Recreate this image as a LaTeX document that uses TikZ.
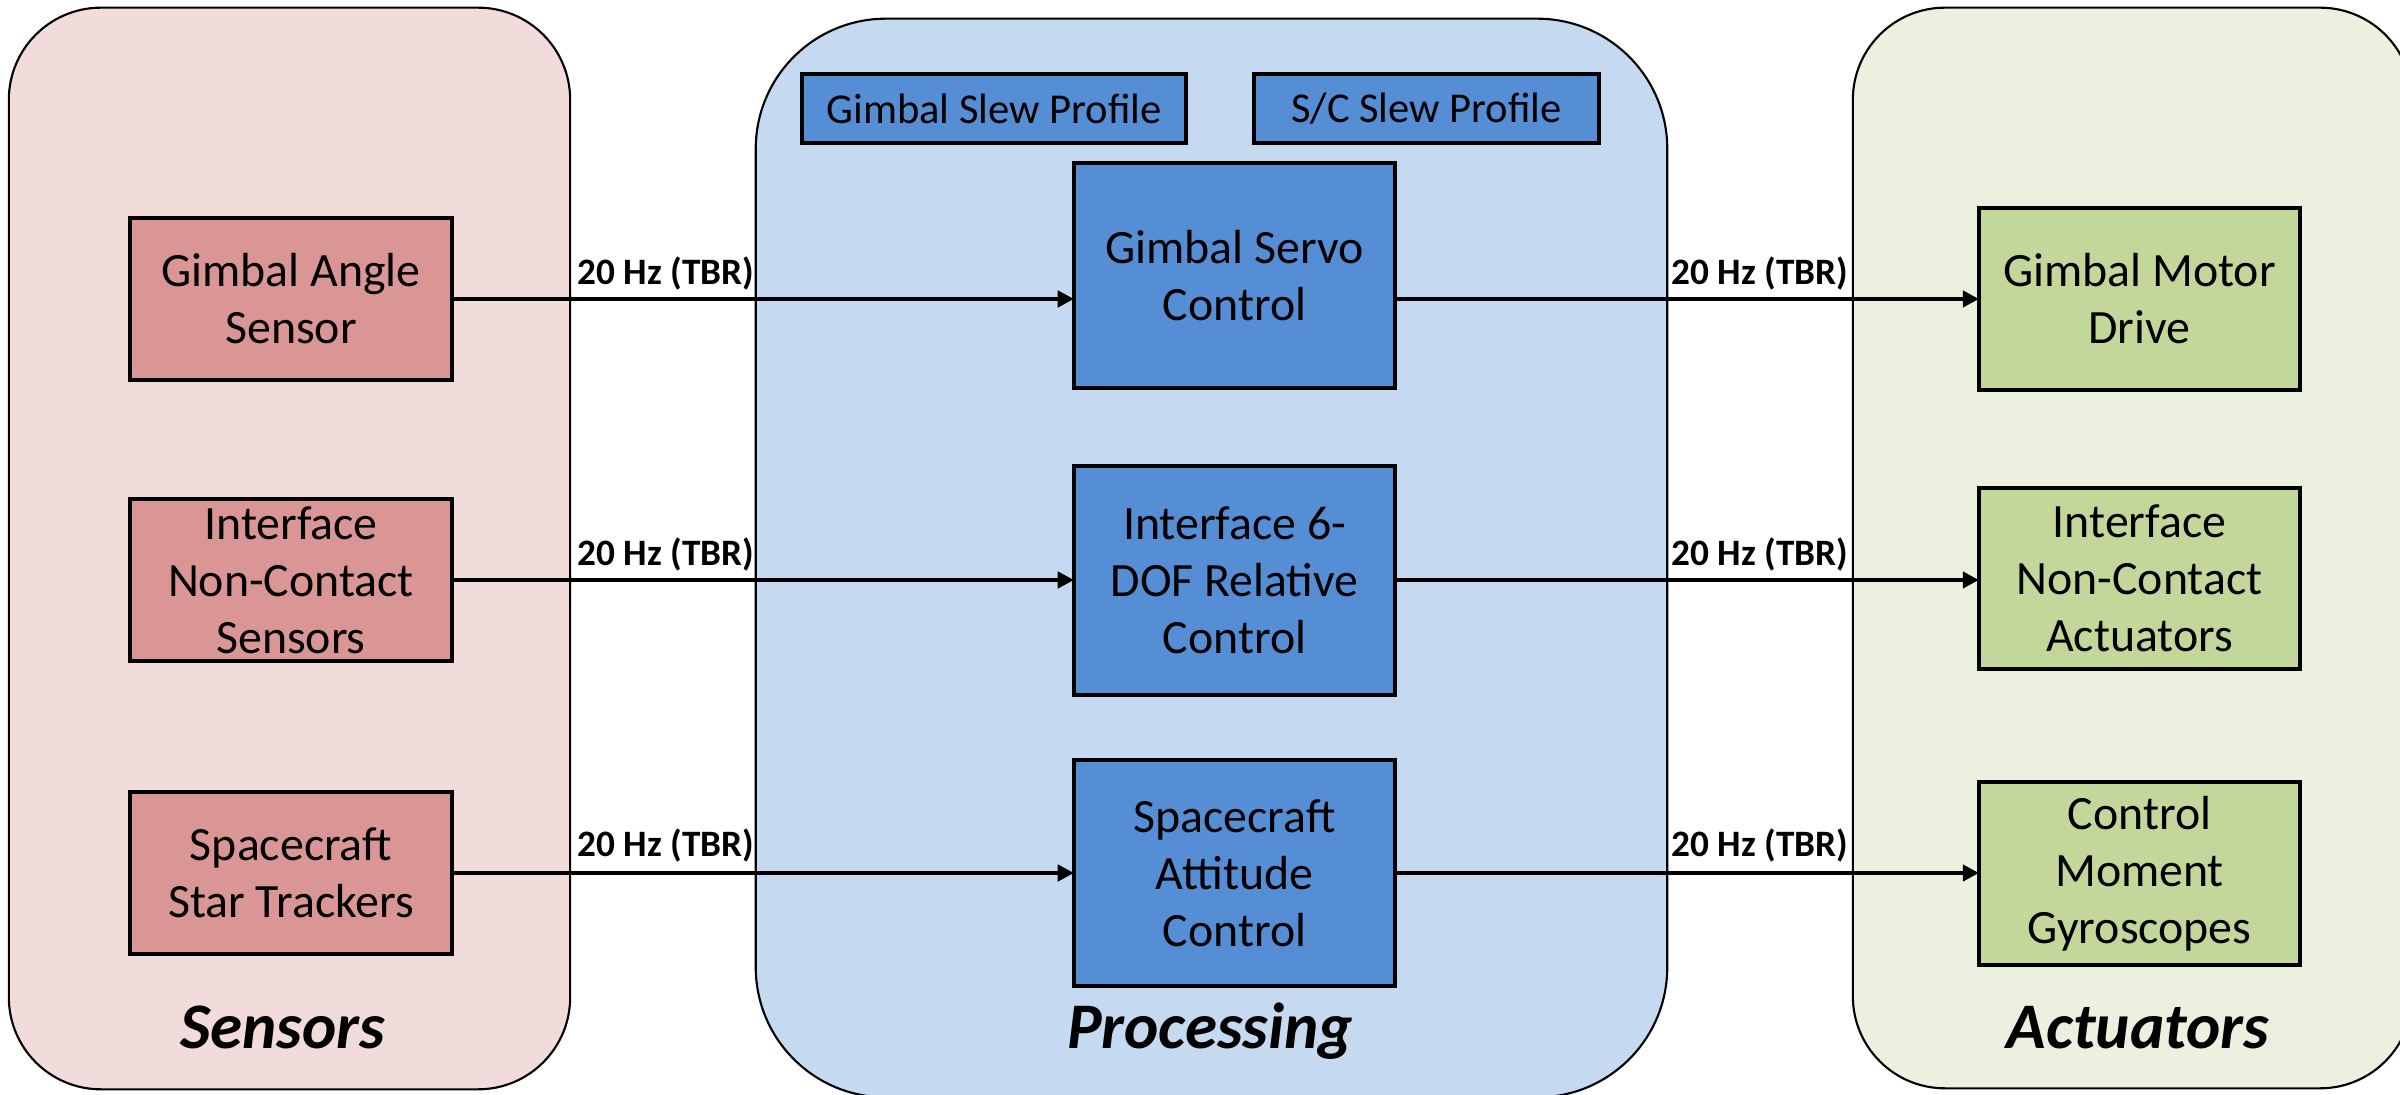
\documentclass[tikz,border=0pt]{standalone}
\usepackage{fontspec}
\setmainfont{Carlito}
\usetikzlibrary{arrows.meta,calc}
\definecolor{sensbg}{RGB}{242,220,219}
\definecolor{sensbox}{RGB}{218,150,148}
\definecolor{procbg}{RGB}{197,217,241}
\definecolor{procbox}{RGB}{85,142,213}
\definecolor{actbg}{RGB}{235,241,222}
\definecolor{actbox}{RGB}{196,215,155}
\tikzset{
  panel/.style={draw=black, line width=0.6pt, inner sep=0pt, outer sep=0pt},
  blk/.style={draw=black, line width=1.3pt, inner sep=0pt, outer sep=0pt, align=center,
    font=\fontsize{13.6pt}{16.2pt}\selectfont, minimum width=3.21cm},
  slew/.style={draw=black, line width=1.3pt, inner sep=0pt, outer sep=0pt,
    font=\fontsize{12.1pt}{14pt}\selectfont, fill=procbox, minimum height=0.69cm},
  conn/.style={line width=1.2pt, -{Triangle[length=4.6pt,width=4.6pt]}},
  lbl/.style={anchor=base, inner sep=0pt, font=\fontsize{10.6pt}{12pt}\selectfont\bfseries},
  ttl/.style={anchor=base, inner sep=0pt, font=\fontsize{18.5pt}{21pt}\selectfont\bfseries\itshape}
}
\begin{document}
\begin{tikzpicture}[x=0.01cm, y=-0.01cm]
\useasboundingbox (0,0) rectangle (2400,1095);
% panels
\node[panel, fill=sensbg, rounded corners=0.92cm, minimum width=5.61cm, minimum height=10.81cm] (sens) at (289.5,548.5) {};
\node[panel, fill=procbg, rounded corners=1.3cm, minimum width=9.11cm, minimum height=10.78cm] (proc) at (1211.5,558) {};
\node[panel, fill=actbg, rounded corners=0.92cm, minimum width=5.59cm, minimum height=10.80cm] (act) at (2132.5,548) {};
% sensor boxes
\node[blk, fill=sensbox, minimum width=3.22cm, minimum height=1.62cm] (gas) at (291,299) {Gimbal Angle\\Sensor};
\node[blk, fill=sensbox, minimum width=3.22cm, minimum height=1.62cm] (incs) at (291,580) {Interface\\Non-Contact\\Sensors};
\node[blk, fill=sensbox, minimum width=3.22cm, minimum height=1.62cm] (sst) at (291,873) {Spacecraft\\Star Trackers};
% processing boxes
\node[slew, minimum width=3.84cm] (gsp) at (994,108.5) {Gimbal Slew Profile};
\node[slew, minimum width=3.45cm] (scsp) at (1426.5,108.5) {S/C Slew Profile};
\node[blk, fill=procbox, minimum height=2.25cm] (gsc) at (1234.5,275.5) {Gimbal Servo\\Control};
\node[blk, fill=procbox, minimum height=2.29cm] (i6) at (1234.5,580.5) {Interface 6-\\DOF Relative\\Control};
\node[blk, fill=procbox, minimum height=2.26cm] (sac) at (1234.5,873) {Spacecraft\\Attitude\\Control};
% actuator boxes
\node[blk, fill=actbox, minimum height=1.82cm] (gmd) at (2139.5,299) {Gimbal Motor\\Drive};
\node[blk, fill=actbox, minimum height=1.81cm] (inca) at (2139.5,578.5) {Interface\\Non-Contact\\Actuators};
\node[blk, fill=actbox, minimum height=1.83cm] (cmg) at (2139.5,873.5) {Control\\Moment\\Gyroscopes};
% connectors
\draw[conn] (gas.east) -- (gas.east -| gsc.west);
\draw[conn] (incs.east) -- (incs.east -| i6.west);
\draw[conn] (sst.east) -- (sst.east -| sac.west);
\draw[conn] (gsc.east |- gmd.west) -- (gmd.west);
\draw[conn] (i6.east |- incs.east) -- (incs.east -| inca.west);
\draw[conn] (sac.east) -- (sac.east -| cmg.west);
% rate labels
\node[lbl] (l1) at (666,285) {20 Hz (TBR)};
\node[lbl] (l2) at (666,566) {20 Hz (TBR)};
\node[lbl] (l3) at (666,857) {20 Hz (TBR)};
\node[lbl] (r1) at (1760,285) {20 Hz (TBR)};
\node[lbl] (r2) at (1760,566) {20 Hz (TBR)};
\node[lbl] (r3) at (1760,857) {20 Hz (TBR)};
% titles
\node[ttl] (tsens) at (283,1048) {Sensors};
\node[ttl] (tproc) at (1210,1048) {Processing};
\node[ttl] (tact) at (2138,1048) {Actuators};
\end{tikzpicture}
\end{document}
